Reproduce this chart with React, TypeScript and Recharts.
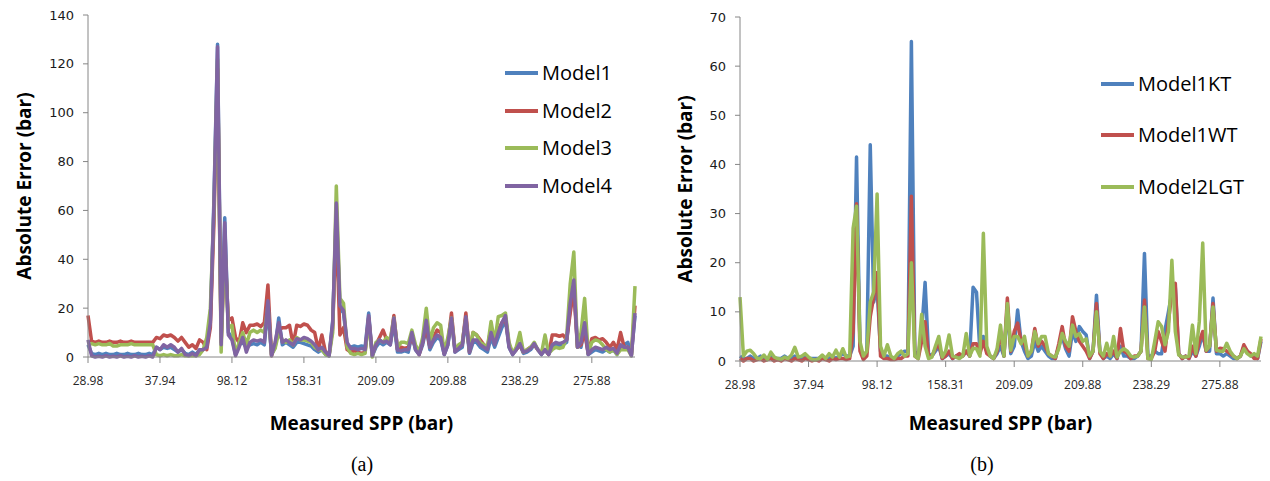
import { LineChart, Line, XAxis, YAxis, Legend } from 'recharts'

// category positions that carry a label (every 20th sample)
const tickIdx = [0, 20, 40, 60, 80, 100, 120, 140]
const tickLabels = ['28.98', '37.94', '98.12', '158.31', '209.09', '209.88', '238.29', '275.88']

// panel (a)
const model1 = [
  5, 1.5, 1, 1.5, 1, 1.5, 1, 1, 1.5, 1,
  1, 1.5, 1, 1, 1.5, 1, 1, 1.5, 1, 4,
  3, 4, 3.5, 4, 3, 2, 3, 1.5, 1, 2,
  1, 3, 3, 5, 15, 65, 128, 8, 57, 10,
  8, 1, 5, 6, 4, 5, 5.5, 5, 6, 5,
  20, 1, 4, 16, 5, 6, 5, 4, 6, 6,
  5.5, 5, 4.5, 3, 2, 3, 1, 0.5, 15, 60,
  20, 18, 5, 4, 4.5, 4, 4.5, 4, 18, 0.5,
  4, 6, 5, 6, 5, 14, 2, 2, 2.5, 2,
  9, 3, 1, 5, 12, 3, 6, 8, 7, 1,
  5, 15, 2, 3, 4, 15, 1.5, 6, 6, 4,
  3, 2, 8, 4, 8, 12, 15, 4, 1, 3,
  5, 1.5, 2, 3, 5, 3, 1, 3, 1, 4,
  5, 4.5, 5, 6, 20, 30, 5, 4, 12, 1,
  2, 3, 2.5, 2, 3, 2, 3, 1, 4, 5,
  6, 1, 17,
]
const model2 = [
  17, 6.5, 6, 6.5, 6, 6, 6.5, 6, 6, 6.5,
  6, 6, 6.5, 6, 6, 6, 6, 6, 6, 8,
  7.5, 9, 8.5, 9, 8, 6.5, 8, 6, 4, 5,
  3.5, 7, 6, 3, 12, 55, 118, 6, 45, 15,
  16, 8, 6, 14, 10, 13, 13, 13.5, 12.5, 14,
  29.5, 0.5, 5.5, 11, 12, 12, 13, 5, 13, 12.5,
  13.5, 13, 11, 10, 3, 9, 2, 1, 12, 55,
  9, 12, 3, 2, 2.5, 2, 1.5, 2, 16, 1,
  5, 8, 11, 7, 6, 17, 3, 4, 3.5, 4,
  8, 4, 1, 6, 12, 4, 8, 11, 10, 1.5,
  6, 18, 2.5, 4, 5, 18, 2, 10, 9, 7,
  5, 4, 12, 6, 11, 14, 16, 5, 1.5, 3,
  5, 2, 3, 4, 5, 3, 1.5, 3, 1, 9,
  9, 8.5, 9, 7, 18, 28, 4, 5, 10, 1.5,
  7.5, 8, 7, 7.5, 6, 4, 6, 3, 10, 4,
  4, 1, 21,
]
const model3 = [
  5, 5.5, 5, 5.5, 5, 5, 5.5, 4.5, 4.5, 5,
  5, 5, 5.5, 5, 5, 5, 5, 5, 5, 1,
  0.5, 1, 0.5, 1, 0.5, 0.5, 1, 0.5, 0.5, 0.5,
  0.5, 1, 3, 8, 20, 60, 122, 2, 48, 12,
  13, 1, 6, 10, 5, 10, 11, 10, 11, 10,
  21, 1, 3.5, 10, 7, 6, 7, 5, 8, 7,
  7, 6.5, 6, 4, 3, 3, 1, 0.5, 10, 70,
  24, 22, 4, 1.5, 1, 1.5, 1, 1.5, 15, 0,
  6, 7, 6, 8, 7, 16, 4, 6, 6, 5.5,
  11, 5, 2, 8, 20, 6, 12, 14, 13, 2,
  8, 16, 3, 5, 6, 16, 2.5, 10, 9, 6,
  5, 4, 14.5, 6, 16.5, 17, 18, 6, 1.5, 4,
  10, 2, 3, 4, 6, 3, 1.5, 9, 1.5, 3,
  4, 3.5, 4, 8, 30, 43, 4, 10, 24, 1.5,
  6, 7, 6.5, 5, 3, 2, 3, 1, 3, 3,
  3, 0.5, 29,
]
const model4 = [
  7, 0.5, 0, 0.3, 0, 0.5, 0, 0.3, 0, 0.5,
  0, 0.3, 0, 0.5, 0, 0.3, 0, 0.5, 0, 4,
  3, 5, 4, 5, 4, 2, 3.5, 1, 0.5, 1.5,
  0.5, 3, 3, 4, 14, 62, 127, 5, 55, 9,
  7, 0.5, 4, 8, 2, 6, 7, 6.5, 7, 6,
  23, 0.5, 6, 14, 6, 7, 6, 5, 7.5, 7,
  8, 7.5, 6.5, 5, 3, 4, 2, 0.5, 14, 63,
  21, 19, 6, 3.5, 3.5, 3, 3.5, 3, 17, 0.5,
  5, 7, 6, 6.5, 5, 16, 3, 2.5, 3, 3,
  10, 3, 1, 6, 15, 4, 7, 9, 8, 1,
  5, 16, 2, 3.5, 5, 16.5, 2, 7, 7, 5,
  4, 3, 10, 5, 10, 14, 17, 4, 1, 3,
  5.5, 2, 2.5, 3.5, 5.5, 3, 1, 3, 1, 5,
  6, 5.5, 6, 7, 22, 31.5, 4, 6, 14, 1,
  3, 4, 3.5, 3, 4, 3, 3.5, 1.5, 5, 4,
  4, 0.5, 18,
]

// panel (b)
const model1KT = [
  1, 0.5, 0.5, 1, 0.5, 0.5, 1, 0.5, 0.5, 1,
  0.5, 0.5, 0.5, 1, 0.5, 0.5, 1, 0.5, 0.5, 1,
  0.5, 0.5, 0.5, 0.5, 1, 0.5, 0.5, 1, 0.5, 1,
  1.5, 1, 1, 3, 41.5, 3, 0.5, 2, 44, 12,
  15, 2, 1, 1, 0.5, 0.5, 1, 1.5, 2, 2,
  65, 2, 1, 6, 16, 1.5, 1, 2, 3, 0.5,
  1, 1.5, 0.5, 1, 1, 1, 2, 1, 15, 14,
  2, 5, 2, 1, 0.5, 1.5, 3, 1, 11, 1.5,
  3, 10.4, 4, 2, 0.5, 1, 4, 2, 3, 2,
  1, 0.5, 0.5, 3, 5, 2.5, 1, 6, 4, 7,
  6, 5.3, 0.5, 2, 13.4, 2, 0.5, 1, 0.5, 1.5,
  0.5, 3, 1, 1, 0.5, 0.5, 1, 2, 21.9, 1,
  1, 2, 1.5, 1.5, 6.3, 10, 14, 15, 1.5, 0.5,
  1, 0.5, 2, 1, 3, 5.6, 2, 2, 12.8, 1.5,
  1.5, 1, 1.5, 1, 0.5, 0.5, 1, 2.9, 2, 1,
  1, 0.5, 4,
]
const model1WT = [
  0.5, 0, 0.5, 0.5, 0, 0.3, 0.5, 0, 0.3, 0.5,
  0, 0.3, 0, 0.5, 0.3, 0, 0.5, 0.3, 0, 0.5,
  0.3, 0, 0.3, 0, 0.5, 0.3, 0, 0.5, 0.3, 0.5,
  0.5, 0.3, 0.5, 6, 32, 2, 0.3, 1, 9, 13,
  18, 1, 0.5, 0.5, 0.3, 0.3, 0.5, 0.5, 1, 1,
  33.5, 1, 0.5, 4, 8, 1, 1, 2.5, 3.5, 0.5,
  1, 2, 0.5, 1, 1.5, 1, 2, 1, 3.5, 3.5,
  1.5, 4, 1.5, 1, 0.5, 2, 5.5, 1, 12.8, 2,
  6, 7.7, 4, 3.5, 1, 2, 6.6, 3, 4, 3,
  1.5, 1, 0.5, 3.5, 7, 3, 2, 9, 6, 4,
  3, 2, 0.5, 2, 11.7, 1.5, 0.5, 1.5, 1, 2,
  0.5, 6.6, 2, 1.5, 0.5, 1, 1, 2, 12.4, 0.5,
  0.5, 2, 6, 4, 2, 8, 14, 15.8, 1.5, 0.5,
  1, 0.5, 3, 1, 4, 6, 2, 3, 11.7, 2,
  2.6, 2.5, 2, 1.5, 1, 0.5, 1, 3.3, 2, 1.5,
  0.5, 0.5, 4.5,
]
const model2LGT = [
  13, 1, 2, 2.2, 1.5, 0.5, 0.5, 1.2, 0.3, 1.8,
  0.8, 0.5, 0.3, 0.8, 0.5, 1.2, 2.8, 0.8, 1, 1.5,
  0.8, 0.3, 0.2, 0.5, 1.2, 0.5, 1.5, 0.8, 2.2, 0.8,
  2.5, 0.8, 1, 27, 31.5, 4, 1, 2, 12, 14,
  34, 3, 1, 3.3, 1, 0.5, 1.5, 2, 1, 1.5,
  20, 1, 0.5, 9.5, 3, 0.5, 0.8, 3, 5, 0.8,
  2, 5.3, 1, 0.8, 0.5, 1, 5.6, 1, 2.6, 2.5,
  1, 26, 3, 1, 0.5, 2.5, 7.3, 1, 11.7, 2.2,
  5, 5, 3.5, 5, 1, 2, 6, 3.5, 5, 5,
  1.5, 1, 0.8, 2.5, 5.6, 4, 3, 7.3, 5, 5.6,
  4, 4.5, 1, 2, 10, 2, 1, 3.6, 1, 5,
  0.8, 2, 2.5, 2, 1, 0.8, 1, 2, 11, 0.5,
  0.3, 4, 8, 7, 3.3, 6, 20.5, 6, 1.2, 0.8,
  0.8, 1, 7.3, 1.5, 8, 24, 2.2, 3, 11, 2.2,
  2, 2, 3.6, 2, 1, 0.5, 1, 2.5, 1.5, 1,
  1.5, 1, 5,
]

const BLUE = '#4F81BD'
const RED = '#C0504D'
const GREEN = '#9BBB59'
const PURPLE = '#8064A2'
const AXIS = '#868686'

type Series = { key: string; name: string; color: string; values: number[] }

const seriesA: Series[] = [
  { key: 'm1', name: 'Model1', color: BLUE, values: model1 },
  { key: 'm2', name: 'Model2', color: RED, values: model2 },
  { key: 'm3', name: 'Model3', color: GREEN, values: model3 },
  { key: 'm4', name: 'Model4', color: PURPLE, values: model4 },
]
const seriesB: Series[] = [
  { key: 'kt', name: 'Model1KT', color: BLUE, values: model1KT },
  { key: 'wt', name: 'Model1WT', color: RED, values: model1WT },
  { key: 'lgt', name: 'Model2LGT', color: GREEN, values: model2LGT },
]

function buildRows(series: Series[]) {
  return series[0].values.map((_, i) => {
    const row: Record<string, number> = { i }
    series.forEach((s) => {
      row[s.key] = s.values[i]
    })
    return row
  })
}

function LegendBox({ payload, rowH }: { payload?: any[]; rowH: number }) {
  return (
    <div>
      {(payload || []).map((p) => (
        <div key={p.value} style={{ height: rowH, display: 'flex', alignItems: 'center' }}>
          <span style={{ display: 'inline-block', width: 33, height: 4, background: p.color, marginRight: 4 }} />
          <span style={{ fontFamily: 'Open Sans, sans-serif', fontSize: 20, color: '#000', lineHeight: 1 }}>{p.value}</span>
        </div>
      ))}
    </div>
  )
}

interface PanelProps {
  series: Series[]
  left: number
  width: number
  margin: { top: number; right: number; left: number; bottom: number }
  yWidth: number
  xHeight: number
  yMax: number
  yTicks: number[]
  yLabelOffset: number
  legendPos: { top: number; left: number }
  legendRowH: number
}

function Panel(p: PanelProps) {
  const rows = buildRows(p.series)
  return (
    <div style={{ position: 'absolute', left: p.left, top: 0 }}>
      <LineChart width={p.width} height={440} data={rows} margin={p.margin}>
        <XAxis
          dataKey="i"
          type="number"
          domain={[0, rows.length - 1]}
          ticks={tickIdx}
          tickFormatter={(v: number) => tickLabels[tickIdx.indexOf(v)] ?? ''}
          height={p.xHeight}
          stroke={AXIS}
          tickSize={6}
          tickMargin={13}
          tick={{ fill: '#262626', fontSize: 12, fontFamily: 'Open Sans, sans-serif' }}
          label={{
            value: 'Measured SPP (bar)',
            position: 'insideBottom',
            offset: 10,
            fill: '#000',
            fontSize: 19,
            fontWeight: 'bold',
            fontFamily: 'Open Sans, sans-serif',
          }}
        />
        <YAxis
          domain={[0, p.yMax]}
          ticks={p.yTicks}
          width={p.yWidth}
          stroke={AXIS}
          tickSize={5}
          tickMargin={9}
          interval={0}
          tick={{ fill: '#1a1a1a', fontSize: 13, fontFamily: 'DejaVu Sans, sans-serif' }}
          label={{
            value: 'Absolute Error (bar)',
            angle: -90,
            position: 'insideLeft',
            offset: p.yLabelOffset,
            style: { textAnchor: 'middle' },
            fill: '#000',
            fontSize: 19,
            fontWeight: 'bold',
            fontFamily: 'Open Sans, sans-serif',
          }}
        />
        <Legend
          layout="vertical"
          align="center"
          verticalAlign="middle"
          wrapperStyle={{ top: p.legendPos.top, left: p.legendPos.left, width: 170 }}
          content={(props: any) => <LegendBox payload={props.payload} rowH={p.legendRowH} />}
        />
        {p.series.map((s) => (
          <Line
            key={s.key}
            type="linear"
            dataKey={s.key}
            name={s.name}
            stroke={s.color}
            strokeWidth={3.5}
            strokeLinejoin="round"
            dot={false}
            isAnimationActive={false}
          />
        ))}
      </LineChart>
    </div>
  )
}

const captionStyle: React.CSSProperties = {
  position: 'absolute',
  top: 453,
  fontFamily: 'Liberation Serif, serif',
  fontSize: 20,
  color: '#000',
  transform: 'translateX(-50%)',
}

export default function App() {
  return (
    <div style={{ position: 'absolute', left: 0, top: 0, width: 1270, height: 481, background: '#fff' }}>
      <Panel
        series={seriesA}
        left={0}
        width={660}
        margin={{ top: 15, right: 25, left: 0, bottom: 0 }}
        yWidth={88}
        xHeight={83}
        yMax={140}
        yTicks={[0, 20, 40, 60, 80, 100, 120, 140]}
        yLabelOffset={24}
        legendPos={{ top: 54, left: 505 }}
        legendRowH={37.7}
      />
      <Panel
        series={seriesB}
        left={640}
        width={630}
        margin={{ top: 17, right: 9, left: 0, bottom: 0 }}
        yWidth={100}
        xHeight={79}
        yMax={70}
        yTicks={[0, 10, 20, 30, 40, 50, 60, 70]}
        yLabelOffset={45}
        legendPos={{ top: 58, left: 461 }}
        legendRowH={51.5}
      />
      <div style={{ ...captionStyle, left: 362 }}>(a)</div>
      <div style={{ ...captionStyle, left: 982 }}>(b)</div>
    </div>
  )
}
